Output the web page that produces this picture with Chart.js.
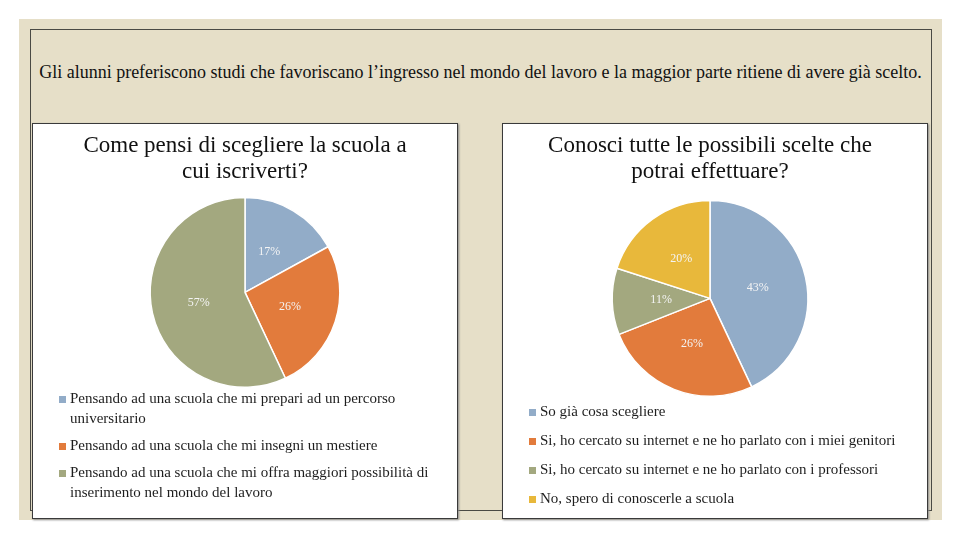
<!DOCTYPE html>
<html lang="it">
<head>
<meta charset="utf-8">
<script src="https://cdn.jsdelivr.net/npm/chart.js@4/dist/chart.umd.min.js"></script>
<style>
    html, body { margin: 0; padding: 0; background: #fff; }
    body { width: 960px; height: 540px; position: relative; overflow: hidden; font-family: "Liberation Serif", serif; }
    .slide { position: absolute; left: 19px; top: 19px; width: 923px; height: 501px; background: #e6dfc8; }
    .cornice { position: absolute; left: 30px; top: 29px; width: 900px; height: 480px; border: 1px solid #4a4a44; }
    .frase { position: absolute; left: 19px; top: 62px; width: 923px; text-align: center; font-size: 18px; color: #111; }
    .pannello { position: absolute; top: 123px; width: 426px; height: 396px; box-sizing: border-box;
                background: #fff; border: 1px solid #3a3a3a; box-shadow: 1px 1px 2px #888; }
    .pannello canvas { display: block; }
</style>
</head>
<body>
<div class="slide"></div>
<div class="cornice"></div>
<div class="frase">Gli alunni preferiscono studi che favoriscano l’ingresso nel mondo del lavoro e la maggior parte ritiene di avere già scelto.</div>
<div class="pannello" style="left:32px"><canvas id="grafico-scuola" width="424" height="394"></canvas></div>
<div class="pannello" style="left:502px"><canvas id="grafico-scelte" width="424" height="394"></canvas></div>

<script>
// Dati del primo grafico
const titoloScuola = ['Come pensi di scegliere la scuola a', 'cui iscriverti?'];
const etichetteScuola = [
    ['Pensando ad una scuola che mi prepari ad un percorso', 'universitario'],
    ['Pensando ad una scuola che mi insegni un mestiere'],
    ['Pensando ad una scuola che mi offra maggiori possibilità di', 'inserimento nel mondo del lavoro']
];
const valoriScuola = [17, 26, 57];
const coloriScuola = ['#92acc8', '#e27b3c', '#a3a87f'];

// Dati del secondo grafico
const titoloScelte = ['Conosci tutte le possibili scelte che', 'potrai effettuare?'];
const etichetteScelte = [
    ['So già cosa scegliere'],
    ['Si, ho cercato su internet e ne ho parlato con i miei genitori'],
    ['Si, ho cercato su internet e ne ho parlato con i professori'],
    ['No, spero di conoscerle a scuola']
];
const valoriScelte = [43, 26, 11, 20];
const coloriScelte = ['#92acc8', '#e27b3c', '#a3a87f', '#e8b83b'];

const FONT = '"Liberation Serif", "DejaVu Serif", serif';

// Percentuali dentro le fette
const pluginPercentuali = {
    id: 'percentuali',
    afterDatasetsDraw(chart) {
        const ctx = chart.ctx;
        const meta = chart.getDatasetMeta(0);
        const valori = chart.data.datasets[0].data;
        ctx.save();
        ctx.font = '12px ' + FONT;
        ctx.fillStyle = '#f4f4f4';
        ctx.textAlign = 'center';
        ctx.textBaseline = 'middle';
        meta.data.forEach((arc, i) => {
            const p = arc.tooltipPosition();
            ctx.fillText(valori[i] + '%', p.x, p.y);
        });
        ctx.restore();
    }
};

// Legenda sotto la torta (con righe multiple)
const pluginLegenda = {
    id: 'legendaSotto',
    afterDraw(chart, args, opts) {
        const ctx = chart.ctx;
        const labels = chart.data.labels;
        const colori = chart.data.datasets[0].backgroundColor;
        let y = opts.y;
        ctx.save();
        ctx.font = '15px ' + FONT;
        ctx.textBaseline = 'middle';
        labels.forEach((righe, i) => {
            ctx.fillStyle = colori[i];
            ctx.fillRect(opts.x, y - 3, 7, 7);
            ctx.fillStyle = '#1e1e1e';
            righe.forEach((riga, k) => {
                ctx.fillText(riga, opts.x + 11, y + k * opts.riga);
            });
            y += (righe.length - 1) * opts.riga + opts.passo;
        });
        ctx.restore();
    }
};

// Crear grafico a torta
function creaTorta(id, titolo, etichette, valori, colori, impagina) {
    const ctx = document.getElementById(id);
    if (!ctx) return;

    new Chart(ctx, {
        type: 'pie',
        data: {
            labels: etichette,
            datasets: [{
                data: valori,
                backgroundColor: colori,
                borderColor: '#fff',
                borderWidth: 1.5
            }]
        },
        options: {
            responsive: false,
            animation: false,
            layout: { padding: { bottom: impagina.sotto, right: impagina.destra, left: 0, top: 0 } },
            plugins: {
                title: {
                    display: true,
                    text: titolo,
                    color: '#111',
                    font: { family: FONT, size: 23, weight: 'normal', lineHeight: 1.17 },
                    padding: { top: 8, bottom: impagina.titolo }
                },
                legend: { display: false },
                tooltip: { enabled: false },
                legendaSotto: impagina.legenda
            }
        },
        plugins: [pluginPercentuali, pluginLegenda]
    });
}

creaTorta('grafico-scuola', titoloScuola, etichetteScuola, valoriScuola, coloriScuola,
    { sotto: 130, destra: 0, titolo: 11, legenda: { x: 26, y: 275, riga: 20, passo: 27 } });

creaTorta('grafico-scelte', titoloScelte, etichetteScelte, valoriScelte, coloriScelte,
    { sotto: 121, destra: 10, titolo: 14, legenda: { x: 26, y: 288, riga: 20, passo: 29 } });
</script>
</body>
</html>
